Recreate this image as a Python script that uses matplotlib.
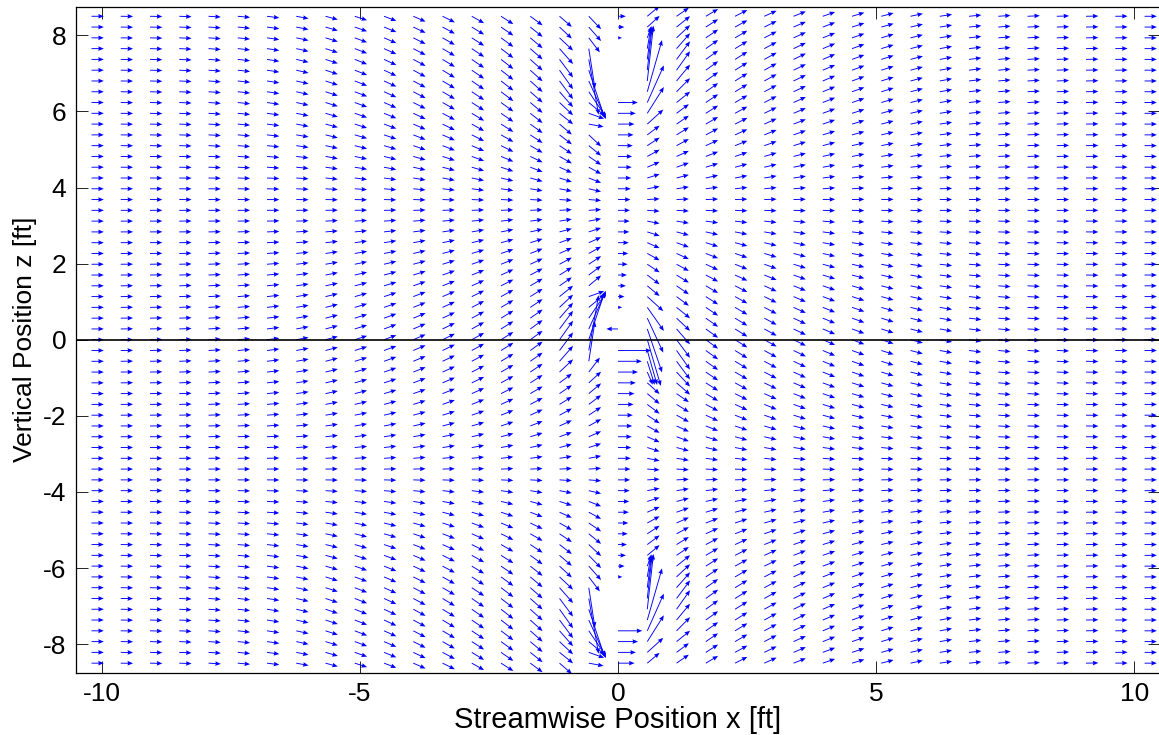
import numpy as np
import matplotlib
matplotlib.use('Agg')
import matplotlib.pyplot as plt

#Grid of the velocity field (ft)
dx = 17.0/30.0
dz = 17.0/60.0
col_index = np.arange(-18, 19)
row_index = np.arange(-30, 31)

#Vertical velocity amplitude for |column| = 0..18, read from the arrow slopes at z = 0
w_amp = [0.0, 1.4, 1.15, 0.98, 0.85, 0.75, 0.66, 0.58, 0.5, 0.43, 0.36, 0.25, 0.17, 0.12, 0.08, 0.05, 0.03, 0.015, 0.0]
period = 14.2
left_upper_gain = 1.25

#Streamwise velocity along the x = 0 column (core row spacing / strength)
core_z = 0.03
core_spacing = 7.1
core_gamma = 3.6

#Long arrows near the blade crossings, (row, u, w) for one column
top_left = [(28, 0.9, -1.6), (27, 0.5, -4.4), (26, 0.8, -6.1), (25, 1.3, -5.3), (24, 1.4, -4.2),
            (23, 1.4, -2.8), (22, 1.3, -1.45), (21, 1.25, -0.6), (20, 1.2, -0.3)]
top_right = [(20, 1.3, 1.6), (21, 1.35, 2.9), (22, 1.35, 4.1), (23, 1.2, 5.7), (24, 0.5, 6.1),
             (25, 0.4, 4.8), (26, 0.33, 3.4), (27, 0.3, 2.4), (28, 0.35, 1.3)]
mid_left = [(4, 1.25, 0.6), (3, 1.3, 1.45), (2, 1.4, 2.8), (1, 1.4, 4.2), (0, 1.3, 5.3),
            (-1, 0.8, 6.1), (-2, 0.5, 4.4), (-3, 0.9, 1.6)]
mid_right = [(4, 1.3, -1.6), (3, 1.35, -2.6), (2, 1.3, -3.8), (1, 1.2, -4.8), (0, 1.1, -5.1),
             (-1, 0.8, -3.8), (-2, 0.6, -2.6), (-3, 0.45, -1.4)]
bot_left = [(-22, 0.9, -1.6), (-23, 0.5, -4.4), (-24, 0.8, -6.1), (-25, 1.3, -5.3), (-26, 1.4, -4.2),
            (-27, 1.4, -2.8), (-28, 1.3, -1.45), (-29, 1.25, -0.6), (-30, 1.2, -0.3)]
bot_right = [(-29, 1.3, 1.6), (-28, 1.35, 2.9), (-27, 1.35, 4.1), (-26, 1.2, 5.7), (-25, 0.5, 6.1),
             (-24, 0.4, 4.8), (-23, 0.33, 3.4), (-22, 0.3, 2.4), (-21, 0.35, 1.3)]
#second column out from the blades, (row, w)
top_left_2 = [(28, -1.4), (27, -1.7), (26, -2.0), (25, -2.1), (24, -2.0), (23, -1.7), (22, -1.4), (21, -1.2)]
top_right_2 = [(22, 1.2), (23, 1.5), (24, 1.8), (25, 2.1), (26, 2.0), (27, 1.7), (28, 1.4), (29, 1.2)]
mid_left_2 = [(4, 1.2), (3, 1.4), (2, 1.7), (1, 2.0), (0, 2.1), (-1, 2.0), (-2, 1.7), (-3, 1.4)]
mid_right_2 = [(3, -1.2), (2, -1.4), (1, -1.7), (0, -2.0), (-1, -2.1), (-2, -2.0), (-3, -1.6), (-4, -1.3)]
bot_left_2 = [(-22, -1.4), (-23, -1.7), (-24, -2.0), (-25, -2.1), (-26, -2.0), (-27, -1.7), (-28, -1.4), (-29, -1.2)]
bot_right_2 = [(-28, 1.2), (-27, 1.5), (-26, 1.8), (-25, 2.1), (-24, 2.0), (-23, 1.7), (-22, 1.4), (-21, 1.2)]
#single reversed arrow just above the middle core
reversed_arrow = (0, 1, -0.95, 0.0)

#Grid points without a vector (column, row)
no_arrow = [(0, 2), (0, 0), (0, 23), (0, 24), (0, 25), (0, 26), (0, 27),
            (0, -23), (0, -24), (0, -25), (0, -26)]

X, Z = np.meshgrid(col_index*dx, row_index*dz)
z0 = row_index*dz
profile = np.cos(2*np.pi*z0/period)
U = np.ones_like(X)
W = np.zeros_like(X)
for j in col_index:
    p = profile.copy()
    if j < 0:
        p[p < 0] *= left_upper_gain
    W[:, j+18] = -np.sign(j)*w_amp[abs(j)]*p

#x = 0 column: faster below and slower above each core
arg = np.pi*(z0-core_z)/core_spacing
U[:, 18] = np.clip(1.0 - core_gamma/(2*core_spacing)/np.tan(arg), -1.0, 2.7)

for col, rows in [(-1, top_left), (1, top_right), (-1, mid_left), (1, mid_right), (-1, bot_left), (1, bot_right)]:
    for k, u, w in rows:
        U[k+30, col+18] = u
        W[k+30, col+18] = w
for col, rows in [(-2, top_left_2), (2, top_right_2), (-2, mid_left_2), (2, mid_right_2), (-2, bot_left_2), (2, bot_right_2)]:
    for k, w in rows:
        U[k+30, col+18] = 1.1
        W[k+30, col+18] = w
j, k, u, w = reversed_arrow
U[k+30, j+18] = u
W[k+30, j+18] = w
for j, k in no_arrow:
    U[k+30, j+18] = np.nan
    W[k+30, j+18] = np.nan

plt.rcParams['font.family'] = ['Liberation Sans', 'DejaVu Sans']
plt.rcParams['axes.unicode_minus'] = False
fig = plt.figure(figsize=(11.59, 7.35), dpi=100, facecolor='w')
ax = fig.add_axes([0.0656, 0.0848, 0.9353, 0.906])
scale = 0.238
ax.quiver(X, Z, U*scale, W*scale, color=(0, 0, 1), angles='xy', scale_units='xy', scale=1,
          width=0.00085, headwidth=5, headlength=6, headaxislength=5.5, zorder=2)
ax.axhline(0, color='k', lw=1.2, zorder=3)
ax.set_xlim(-10.5, 10.5)
ax.set_ylim(-8.75, 8.75)
ax.set_xticks([-10, -5, 0, 5, 10])
ax.set_yticks([-8, -6, -4, -2, 0, 2, 4, 6, 8])
ax.tick_params(direction='in', length=8.7, width=0.6, top=True, right=True, labelsize=19, pad=7)
for s in ax.spines.values():
    s.set_linewidth(0.9)
ax.set_xlabel('Streamwise Position x [ft]', fontsize=21, labelpad=0)
ax.set_ylabel('Vertical Position z [ft]', fontsize=19, labelpad=4)
fig.savefig('out.png', dpi=100)
